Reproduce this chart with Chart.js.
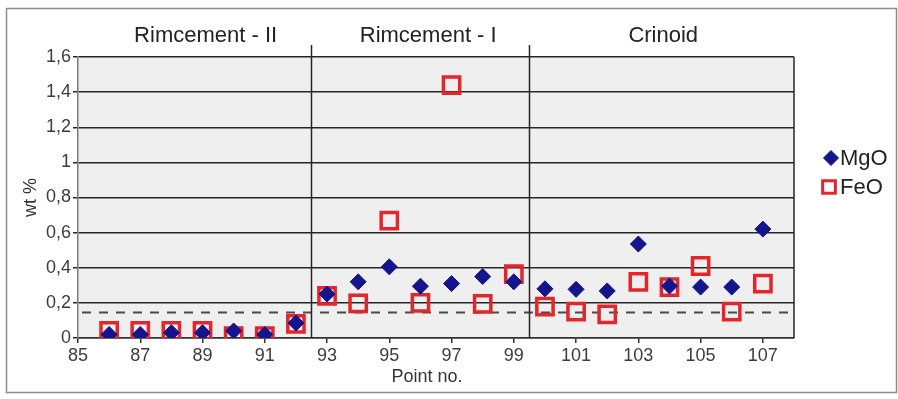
<!DOCTYPE html>
<html>
<head>
<meta charset="utf-8">
<title>MgO and FeO content by point</title>
<script src="https://cdn.jsdelivr.net/npm/chart.js@4/dist/chart.umd.min.js"></script>
<style>
  html, body { margin: 0; padding: 0; background: #ffffff; }
  #wrap { width: 898px; height: 399px; position: relative; }
  canvas { display: block; }
</style>
</head>
<body>
<div id="wrap"><canvas id="chart" width="898" height="399"></canvas></div>
<script>
// Measurement points (analysis spot numbers)
const pointNo = [86, 87, 88, 89, 90, 91, 92, 93, 94, 95, 96, 97, 98, 99, 100, 101, 102, 103, 104, 105, 106, 107];

// Oxide contents, wt %
const mgo = [0.02, 0.02, 0.03, 0.03, 0.04, 0.02, 0.085, 0.25, 0.32, 0.405, 0.295, 0.31, 0.35, 0.32, 0.28, 0.277, 0.268, 0.535, 0.296, 0.29, 0.29, 0.62];
const feo = [0.04, 0.04, 0.04, 0.04, 0.01, 0.01, 0.08, 0.24, 0.197, 0.668, 0.2, 1.44, 0.194, 0.364, 0.178, 0.15, 0.135, 0.32, 0.29, 0.41, 0.15, 0.31];

// Axis ticks
const xTickValues = [85, 87, 89, 91, 93, 95, 97, 99, 101, 103, 105, 107];
const yTickValues = [0, 0.2, 0.4, 0.6, 0.8, 1, 1.2, 1.4, 1.6];
const yTickLabels = ['0', '0,2', '0,4', '0,6', '0,8', '1', '1,2', '1,4', '1,6'];

// Sample sections and the boundaries between them
const sectionNames = ['Rimcement - II', 'Rimcement - I', 'Crinoid'];
const sectionBreaks = [92.5, 99.5];

// Detection limit shown as a dashed line
const detectionLimit = 0.15;

const FONT = "'Liberation Sans', Arial, Helvetica, sans-serif";
const MGO_COLOR = '#14148c';
const FEO_COLOR = '#e3262b';

// Centre of each section title, in point numbers
const sectionLabelAt = [89.1, 96.25, 103.8];

const decorations = {
  id: 'decorations',
  beforeDraw(chart) {
    const { ctx, chartArea: a } = chart;
    ctx.save();
    ctx.fillStyle = '#ffffff';
    ctx.fillRect(0, 0, chart.width, chart.height);
    ctx.fillStyle = '#efefef';
    ctx.fillRect(a.left, a.top, a.right - a.left, a.bottom - a.top);
    ctx.restore();
  },
  beforeDatasetsDraw(chart) {
    const { ctx, chartArea: a, scales: { x, y } } = chart;
    ctx.save();
    // detection limit
    const yl = Math.round(y.getPixelForValue(detectionLimit)) + 0.5;
    ctx.strokeStyle = '#4a4a4a';
    ctx.lineWidth = 2;
    ctx.setLineDash([9, 8]);
    ctx.beginPath();
    ctx.moveTo(a.left + 4, yl);
    ctx.lineTo(a.right, yl);
    ctx.stroke();
    ctx.setLineDash([]);
    // section separators, reaching up into the title band
    ctx.strokeStyle = '#262626';
    ctx.lineWidth = 1.5;
    sectionBreaks.forEach(b => {
      const xp = Math.round(x.getPixelForValue(b)) + 0.5;
      ctx.beginPath();
      ctx.moveTo(xp, a.top - 12);
      ctx.lineTo(xp, a.bottom);
      ctx.stroke();
    });
    // right frame of the plot area
    ctx.beginPath();
    ctx.moveTo(a.right, a.top);
    ctx.lineTo(a.right, a.bottom);
    ctx.stroke();
    ctx.restore();
  },
  afterDraw(chart) {
    const { ctx, chartArea: a, scales: { x } } = chart;
    ctx.save();
    // section titles
    ctx.fillStyle = '#222222';
    ctx.font = `22px ${FONT}`;
    ctx.textAlign = 'center';
    ctx.textBaseline = 'alphabetic';
    sectionNames.forEach((name, i) => {
      ctx.fillText(name, x.getPixelForValue(sectionLabelAt[i]), 42);
    });
    // axis titles
    ctx.fillStyle = '#333333';
    ctx.font = `18px ${FONT}`;
    ctx.textBaseline = 'middle';
    ctx.fillText('Point no.', 427, 377);
    ctx.save();
    ctx.translate(31, (a.top + a.bottom) / 2);
    ctx.rotate(-Math.PI / 2);
    ctx.font = `18px ${FONT}`;
    ctx.fillText('wt %', 0, 0);
    ctx.restore();
    // legend
    ctx.fillStyle = MGO_COLOR;
    ctx.strokeStyle = MGO_COLOR;
    ctx.lineWidth = 1;
    Chart.helpers.drawPoint(ctx, { pointStyle: 'rectRot', rotation: 0, radius: 7.5, borderWidth: 1 }, 831, 158);
    ctx.fillStyle = '#ffffff';
    ctx.strokeStyle = FEO_COLOR;
    ctx.lineWidth = 3;
    Chart.helpers.drawPoint(ctx, { pointStyle: 'rect', rotation: 0, radius: 9, borderWidth: 3 }, 829, 187);
    ctx.fillStyle = '#222222';
    ctx.font = `22px ${FONT}`;
    ctx.textAlign = 'left';
    ctx.textBaseline = 'middle';
    ctx.fillText('MgO', 840, 159);
    ctx.fillText('FeO', 840, 188);
    // outer frame
    ctx.strokeStyle = '#8c8c8c';
    ctx.lineWidth = 1.5;
    ctx.strokeRect(6.5, 8.5, 890, 384);
    ctx.restore();
  }
};

new Chart(document.getElementById('chart'), {
  type: 'scatter',
  data: {
    datasets: [
      {
        label: 'MgO',
        data: pointNo.map((p, i) => ({ x: p, y: mgo[i] })),
        pointStyle: 'rectRot',
        radius: 8,
        hoverRadius: 8,
        backgroundColor: MGO_COLOR,
        borderColor: MGO_COLOR,
        borderWidth: 1,
        order: 0
      },
      {
        label: 'FeO',
        data: pointNo.map((p, i) => ({ x: p, y: feo[i] })),
        pointStyle: 'rect',
        radius: 11.5,
        hoverRadius: 11.5,
        backgroundColor: 'rgba(255,255,255,0)',
        borderColor: FEO_COLOR,
        borderWidth: 3.5,
        order: 1
      }
    ]
  },
  options: {
    responsive: false,
    animation: false,
    devicePixelRatio: 1,
    layout: { padding: { top: 57, right: 104, bottom: 0, left: 0 } },
    plugins: {
      legend: { display: false },
      tooltip: { enabled: false }
    },
    scales: {
      x: {
        type: 'linear',
        min: 85,
        max: 108,
        afterBuildTicks: s => { s.ticks = xTickValues.map(v => ({ value: v })); },
        afterFit: s => { s.height = 61; },
        ticks: {
          font: { family: FONT, size: 18 },
          color: '#3c3c3c',
          padding: 2,
          maxRotation: 0,
          autoSkip: false
        },
        grid: { drawOnChartArea: false, drawTicks: true, tickLength: 5, color: '#333333', lineWidth: 1.5 },
        border: { color: '#333333', width: 1.5 }
      },
      y: {
        min: 0,
        max: 1.6,
        afterBuildTicks: s => { s.ticks = yTickValues.map(v => ({ value: v })); },
        afterFit: s => { s.width = 78; },
        ticks: {
          font: { family: FONT, size: 18 },
          color: '#3c3c3c',
          padding: 2,
          callback: (value, index) => yTickLabels[index]
        },
        grid: { color: '#262626', lineWidth: 1.5, tickLength: 5, drawTicks: true },
        border: { color: '#7a7a7a', width: 1.5 }
      }
    }
  },
  plugins: [decorations]
});
</script>
</body>
</html>
